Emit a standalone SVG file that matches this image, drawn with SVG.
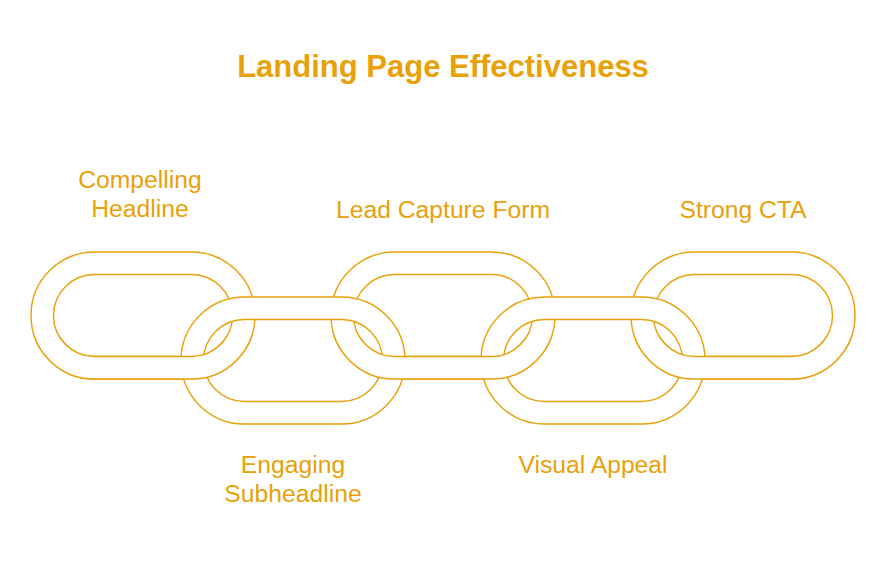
<svg xmlns="http://www.w3.org/2000/svg" xmlns:xlink="http://www.w3.org/1999/xlink" width="887" height="572" viewBox="0 0 887 572">
  <style>
    .ring { fill: #ffffff; fill-rule: evenodd; stroke: #E8A108; stroke-width: 1.4; }
    .lbl { font-family: "Liberation Sans", Arial, sans-serif; font-size: 24.7px; fill: #E8A108; text-anchor: middle; }
    .title { font-family: "Liberation Sans", Arial, sans-serif; font-size: 31px; font-weight: bold; fill: #E8A108; text-anchor: middle; }
  </style>
  <defs>
    <path id="link" d="M63.5,0 H160.5 A63.5,63.5 0 0 1 160.5,127 H63.5 A63.5,63.5 0 0 1 63.5,0 Z M63.5,22.5 H160.5 A41,41 0 0 1 160.5,104.5 H63.5 A41,41 0 0 1 63.5,22.5 Z"/>
    <clipPath id="lowerBand">
      <rect x="0" y="336" width="887" height="64"/>
    </clipPath>
  </defs>
  <rect width="887" height="572" fill="#ffffff"/>
  <text class="title" x="443" y="77">Landing Page Effectiveness</text>

  <g id="node-compelling-headline">
    <use xlink:href="#link" href="#link" class="ring" transform="translate(31,252)"/>
    <text class="lbl" x="140" y="188">Compelling</text>
    <text class="lbl" x="140" y="217">Headline</text>
  </g>
  <g id="node-lead-capture-form">
    <use xlink:href="#link" href="#link" class="ring" transform="translate(331,252)"/>
    <text class="lbl" x="443" y="218">Lead Capture Form</text>
  </g>
  <g id="node-strong-cta">
    <use xlink:href="#link" href="#link" class="ring" transform="translate(631,252)"/>
    <text class="lbl" x="743" y="218">Strong CTA</text>
  </g>
  <g id="node-engaging-subheadline">
    <use xlink:href="#link" href="#link" class="ring" transform="translate(181,297)"/>
    <text class="lbl" x="293" y="473">Engaging</text>
    <text class="lbl" x="293" y="502">Subheadline</text>
  </g>
  <g id="node-visual-appeal">
    <use xlink:href="#link" href="#link" class="ring" transform="translate(481,297)"/>
    <text class="lbl" x="593" y="473">Visual Appeal</text>
  </g>

  <g id="connectors" clip-path="url(#lowerBand)">
    <use xlink:href="#link" href="#link" class="ring" transform="translate(31,252)"/>
    <use xlink:href="#link" href="#link" class="ring" transform="translate(331,252)"/>
    <use xlink:href="#link" href="#link" class="ring" transform="translate(631,252)"/>
  </g>
</svg>
